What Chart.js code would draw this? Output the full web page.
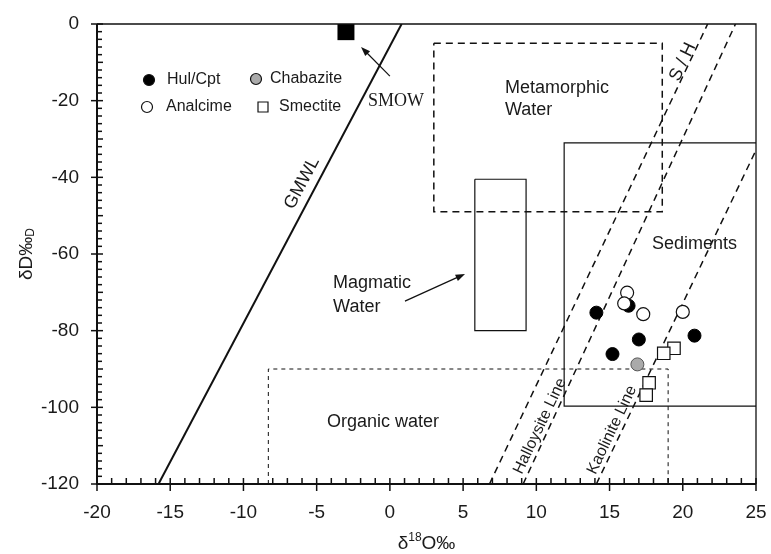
<!DOCTYPE html>
<html><head><meta charset="utf-8">
<script src="https://cdn.jsdelivr.net/npm/chart.js@4/dist/chart.umd.min.js"></script>
<style>html,body{margin:0;padding:0;background:#fff}canvas{display:block}</style>
</head><body><canvas id="c" width="771" height="554"></canvas>
<script>
// ---- data ----
const xTicks = [-20,-15,-10,-5,0,5,10,15,20,25];
const yTicks = [0,-20,-40,-60,-80,-100,-120];
const hulCpt = [{x:14.1,y:-75.3},{x:16.3,y:-73.5},{x:17.0,y:-82.3},{x:15.2,y:-86.1},{x:20.8,y:-81.3}];
const analcime = [{x:16.2,y:-70.1},{x:16.0,y:-72.9},{x:17.3,y:-75.7},{x:20.0,y:-75.1}];
const chabazite = [{x:16.9,y:-88.8}];
const smectite = [{x:19.4,y:-84.6},{x:18.7,y:-85.9},{x:17.7,y:-93.6},{x:17.5,y:-96.8}];
const smow = [{x:-3.0,y:-2.0}];
const gmwl = [{x:-15.8,y:-120},{x:0.8,y:0}];
const shLine = [{x:6.8,y:-120},{x:21.7,y:0}];
const halloysiteLine = [{x:9.1,y:-120},{x:23.6,y:0}];
const kaoliniteLine = [{x:14.1,y:-120},{x:25,y:-32.9}];
const metamorphicBox = [{x:3,y:-5},{x:18.6,y:-5},{x:18.6,y:-49},{x:3,y:-49},{x:3,y:-5}];
const magmaticBox = [{x:5.8,y:-40.5},{x:9.3,y:-40.5},{x:9.3,y:-80},{x:5.8,y:-80},{x:5.8,y:-40.5}];
const sedimentsBox = [{x:25,y:-31},{x:11.9,y:-31},{x:11.9,y:-99.7},{x:25,y:-99.7}];
const organicBox = [{x:-8.3,y:-120},{x:-8.3,y:-90},{x:19.0,y:-90},{x:19.0,y:-120}];

// ---- annotation layout (positions in data units) ----
const FONT = '"Liberation Sans", Arial, sans-serif';
const SERIF = '"Liberation Serif", "Times New Roman", serif';
const labels = [
  {t:'Metamorphic', x:7.86, y:-16.7, size:18, align:'left'},
  {t:'Water', x:7.86, y:-22.4, size:18, align:'left'},
  {t:'Sediments', x:17.9, y:-57.4, size:18, align:'left'},
  {t:'Magmatic', x:-3.88, y:-67.6, size:18, align:'left'},
  {t:'Water', x:-3.88, y:-73.8, size:18, align:'left'},
  {t:'Organic water', x:-4.29, y:-103.8, size:18, align:'left'},
  {t:'SMOW', x:-1.49, y:-20.1, size:18, align:'left', serif:true},
  {t:'GMWL', x:-6.0, y:-41.5, size:18, align:'center', rot:-62},
  {t:'S / H', x:20.0, y:-9.9, size:18, align:'center', rot:-64.6},
  {t:'Halloysite Line', x:10.25, y:-104.9, size:16, align:'center', rot:-64.6},
  {t:'Kaolinite Line', x:15.17, y:-105.9, size:16, align:'center', rot:-64.6}
];
const arrows = [
  {x1:0.0, y1:-13.6, x2:-1.97, y2:-6.0},
  {x1:1.03, y1:-72.3, x2:5.13, y2:-65.2}
];
const legendItems = [
  {label:'Hul/Cpt', mx:52, my:56, tx:70, shape:'circle', fill:'#000'},
  {label:'Chabazite', mx:159, my:55, tx:173, shape:'circle', fill:'#aaa'},
  {label:'Analcime', mx:50, my:83, tx:69, shape:'circle', fill:'#fff'},
  {label:'Smectite', mx:166, my:83, tx:182, shape:'rect', fill:'#fff'}
];

const lineDs = (data, dash, width) => ({type:'line', data, showLine:true, pointRadius:0, borderColor:'#111',
  borderWidth:width, borderDash:dash, fill:false, tension:0});

const decor = {
  id:'decor',
  afterDraw(chart){
    const ctx = chart.ctx, xs = chart.scales.x, ys = chart.scales.y, a = chart.chartArea;
    const px = v => xs.getPixelForValue(v), py = v => ys.getPixelForValue(v);
    ctx.save();
    ctx.strokeStyle = '#111'; ctx.fillStyle = '#111';
    ctx.lineWidth = 1.3;
    ctx.beginPath(); ctx.moveTo(a.left, a.top); ctx.lineTo(a.right, a.top); ctx.lineTo(a.right, a.bottom); ctx.stroke();
    ctx.lineWidth = 2;
    ctx.beginPath(); ctx.moveTo(a.left, a.top); ctx.lineTo(a.left, a.bottom); ctx.lineTo(a.right, a.bottom); ctx.stroke();
    ctx.lineWidth = 1.5;
    for (let v = -20; v <= 25; v++) {
      const X = px(v);
      ctx.beginPath();
      if (v % 5 === 0) { ctx.moveTo(X, a.bottom - 6); ctx.lineTo(X, a.bottom + 7); }
      else { ctx.moveTo(X, a.bottom - 6); ctx.lineTo(X, a.bottom); }
      ctx.stroke();
    }
    for (let v = -120; v <= 0; v += 2) {
      const Y = py(v);
      ctx.beginPath();
      if (v % 20 === 0) { ctx.moveTo(a.left - 6, Y); ctx.lineTo(a.left + 6, Y); }
      else if (v % 10 === 0) { ctx.moveTo(a.left, Y); ctx.lineTo(a.left + 6, Y); }
      else { ctx.moveTo(a.left, Y); ctx.lineTo(a.left + 5, Y); }
      ctx.stroke();
    }
    ctx.lineWidth = 1.2;
    arrows.forEach(r => {
      const x1 = px(r.x1), y1 = py(r.y1), x2 = px(r.x2), y2 = py(r.y2);
      const ang = Math.atan2(y2 - y1, x2 - x1);
      ctx.beginPath(); ctx.moveTo(x1, y1); ctx.lineTo(x2 - 6*Math.cos(ang), y2 - 6*Math.sin(ang)); ctx.stroke();
      ctx.beginPath();
      ctx.moveTo(x2, y2);
      ctx.lineTo(x2 - 10*Math.cos(ang - 0.35), y2 - 10*Math.sin(ang - 0.35));
      ctx.lineTo(x2 - 10*Math.cos(ang + 0.35), y2 - 10*Math.sin(ang + 0.35));
      ctx.closePath(); ctx.fill();
    });
    ctx.fillStyle = '#1a1a1a';
    labels.forEach(l => {
      ctx.save();
      ctx.font = l.size + 'px ' + (l.serif ? SERIF : FONT);
      ctx.textAlign = l.align; ctx.textBaseline = 'middle';
      ctx.translate(px(l.x), py(l.y));
      if (l.rot) ctx.rotate(l.rot * Math.PI / 180);
      ctx.fillText(l.t, 0, 0);
      ctx.restore();
    });
    ctx.font = '16px ' + FONT; ctx.textAlign = 'left'; ctx.textBaseline = 'middle';
    legendItems.forEach(it => {
      const mx = a.left + it.mx, my = a.top + it.my;
      ctx.fillStyle = it.fill; ctx.strokeStyle = '#111'; ctx.lineWidth = 1.2;
      ctx.beginPath();
      if (it.shape === 'circle') ctx.arc(mx, my, 5.5, 0, Math.PI*2);
      else ctx.rect(mx - 5, my - 5, 10, 10);
      ctx.fill(); ctx.stroke();
      ctx.fillStyle = '#1a1a1a';
      ctx.fillText(it.label, a.left + it.tx, my);
    });
    ctx.fillStyle = '#1a1a1a';
    const cx = (a.left + a.right) / 2, by = 549;
    ctx.font = '19px ' + FONT;
    const w1 = ctx.measureText('δ').width;
    ctx.font = '12px ' + FONT;
    const w2 = ctx.measureText('18').width;
    ctx.font = '19px ' + FONT;
    const w3 = ctx.measureText('O‰').width;
    let sx = cx - (w1 + w2 + w3) / 2;
    ctx.textBaseline = 'alphabetic';
    ctx.fillText('δ', sx, by); sx += w1;
    ctx.font = '12px ' + FONT; ctx.fillText('18', sx, by - 8); sx += w2;
    ctx.font = '19px ' + FONT; ctx.fillText('O‰', sx, by);
    ctx.save();
    ctx.translate(32, (a.top + a.bottom) / 2);
    ctx.rotate(-Math.PI/2);
    ctx.font = '19px ' + FONT;
    const v1 = ctx.measureText('δD‰').width;
    ctx.font = '12px ' + FONT;
    const v2 = ctx.measureText('D').width;
    let sy = -(v1 + v2) / 2;
    ctx.font = '19px ' + FONT; ctx.fillText('δD‰', sy, 0); sy += v1;
    ctx.font = '12px ' + FONT; ctx.fillText('D', sy, 2);
    ctx.restore();
    ctx.restore();
  }
};

new Chart(document.getElementById('c'), {
  type:'scatter',
  data:{datasets:[
    {label:'SMOW', data:smow, pointStyle:'rect', pointRadius:12, backgroundColor:'#000', borderColor:'#000', borderWidth:0},
    {label:'Smectite', data:smectite, pointStyle:'rect', pointRadius:8.8, backgroundColor:'#fff', borderColor:'#111', borderWidth:1.2},
    {label:'Chabazite', data:chabazite, pointStyle:'circle', pointRadius:6.5, backgroundColor:'#aaa', borderColor:'#555', borderWidth:1},
    {label:'Analcime', data:analcime, pointStyle:'circle', pointRadius:6.5, backgroundColor:'#fff', borderColor:'#111', borderWidth:1.2},
    {label:'Hul/Cpt', data:hulCpt, pointStyle:'circle', pointRadius:6.5, backgroundColor:'#000', borderColor:'#000', borderWidth:1},
    lineDs(gmwl, [], 2),
    lineDs(shLine, [7,5], 1.5),
    lineDs(halloysiteLine, [7,5], 1.5),
    lineDs(kaoliniteLine, [7,5], 1.5),
    lineDs(metamorphicBox, [7,5], 1.5),
    lineDs(organicBox, [4,4], 1),
    lineDs(magmaticBox, [], 1.2),
    lineDs(sedimentsBox, [], 1.2)
  ]},
  options:{
    responsive:false, animation:false, events:[],
    layout:{padding:{left:0, right:15, top:24, bottom:0}},
    plugins:{legend:{display:false}, tooltip:{enabled:false}},
    scales:{
      x:{type:'linear', min:-20, max:25,
        afterBuildTicks(s){ s.ticks = xTicks.map(v => ({value:v})); },
        ticks:{font:{size:19, family:FONT}, color:'#1a1a1a', padding:9, maxRotation:0, autoSkip:false},
        grid:{display:false}, border:{display:false},
        afterFit(s){ s.height = 70; s.paddingLeft = 0; s.paddingRight = 0; }},
      y:{type:'linear', min:-120, max:0,
        afterBuildTicks(s){ s.ticks = yTicks.map(v => ({value:v})); },
        ticks:{font:{size:19, family:FONT}, color:'#1a1a1a', padding:10, autoSkip:false},
        grid:{display:false}, border:{display:false},
        afterFit(s){ s.width = 97; s.paddingTop = 0; s.paddingBottom = 0; }}
    }
  },
  plugins:[decor]
});
</script></body></html>
